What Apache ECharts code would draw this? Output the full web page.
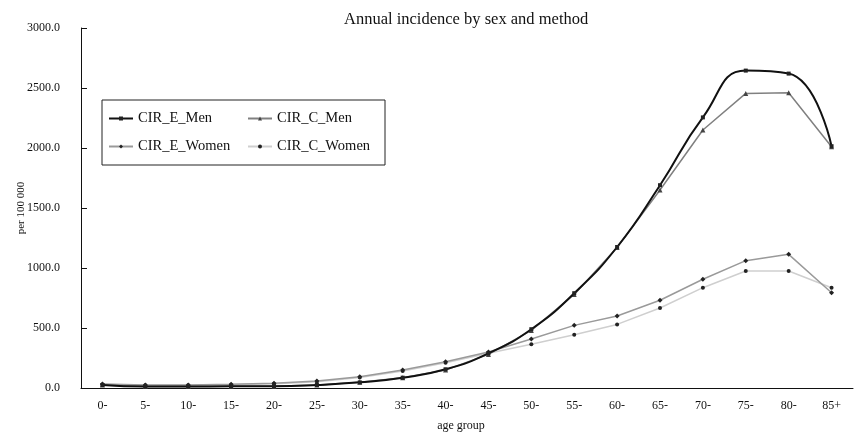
<!DOCTYPE html>
<html>
<head>
<meta charset="utf-8">
<script src="https://cdn.jsdelivr.net/npm/echarts@6/dist/echarts.min.js"></script>
<style>
  html, body { margin: 0; padding: 0; background: #fff; }
  #main { width: 858px; height: 433px; }
</style>
</head>
<body>
<div id="main"></div>
<script>
// age groups on the x axis
const ageGroups = ['0-', '5-', '10-', '15-', '20-', '25-', '30-', '35-', '40-', '45-', '50-', '55-', '60-', '65-', '70-', '75-', '80-', '85+'];

// values per 100 000
const cirEMen   = [25, 12, 12, 15, 15, 25, 47, 86, 156, 289, 490, 790, 1175, 1690, 2255, 2645, 2620, 2015];
const cirCMen   = [25, 12, 12, 15, 15, 25, 47, 86, 150, 280, 480, 780, 1170, 1650, 2150, 2455, 2460, 2010];
const cirEWomen = [33, 25, 25, 31, 39, 58, 94, 150, 219, 300, 408, 522, 600, 731, 906, 1061, 1114, 794];
const cirCWomen = [30, 22, 22, 28, 35, 52, 88, 142, 210, 290, 364, 444, 530, 667, 836, 975, 975, 835];

const font = 'Liberation Serif';

const myChart = echarts.init(document.getElementById('main'));

const option = {
    animation: false,
    backgroundColor: '#fff',
    title: {
        text: 'Annual incidence by sex and method',
        left: 339,
        top: 6,
        textStyle: { fontFamily: font, fontSize: 16.5, fontWeight: 'normal', color: '#111' }
    },
    legend: {
        left: 102,
        top: 100,
        width: 275,
        padding: [7, 4, 7, 6],
        itemGap: 5,
        itemWidth: 24,
        itemHeight: 5,
        borderColor: '#222',
        borderWidth: 1,
        borderRadius: 0,
        textStyle: { fontFamily: font, fontSize: 14.5, color: '#111', width: 104, lineHeight: 23 },
        data: ['CIR_E_Men', 'CIR_C_Men', 'CIR_E_Women', 'CIR_C_Women']
    },
    grid: { left: 81, right: 5, top: 28, bottom: 45, outerBoundsMode: 'none' },
    xAxis: {
        type: 'category',
        data: ageGroups,
        boundaryGap: true,
        name: 'age group',
        nameLocation: 'middle',
        nameGap: 32,
        nameMoveOverlap: false,
        nameTextStyle: { fontFamily: font, fontSize: 12, color: '#111', padding: [0, 12, 0, 0] },
        axisLine: { lineStyle: { color: '#111', width: 1 } },
        axisTick: { inside: true, length: 4, lineStyle: { color: '#111' } },
        axisLabel: { fontFamily: font, fontSize: 12, color: '#111', margin: 12, interval: 0 }
    },
    yAxis: {
        type: 'value',
        min: 0,
        max: 3000,
        interval: 500,
        name: 'per 100 000',
        nameLocation: 'middle',
        nameRotate: 90,
        nameGap: 54,
        nameMoveOverlap: false,
        nameTextStyle: { fontFamily: font, fontSize: 11, color: '#111' },
        axisLine: { show: true, lineStyle: { color: '#111', width: 1 } },
        axisTick: { show: true, inside: true, length: 6, lineStyle: { color: '#111' } },
        splitLine: { show: false },
        axisLabel: {
            fontFamily: font, fontSize: 12, color: '#111', margin: 21,
            formatter: (v) => v.toFixed(1)
        }
    },
    series: [
        {
            name: 'CIR_E_Men', type: 'line', data: cirEMen, smooth: 0.5, z: 5,
            symbol: 'rect', symbolSize: 4,
            lineStyle: { color: '#111', width: 2 },
            itemStyle: { color: '#222' }
        },
        {
            name: 'CIR_C_Men', type: 'line', data: cirCMen, z: 4,
            symbol: 'triangle', symbolSize: 5,
            lineStyle: { color: '#808080', width: 1.5 },
            itemStyle: { color: '#444' }
        },
        {
            name: 'CIR_E_Women', type: 'line', data: cirEWomen, z: 3,
            symbol: 'diamond', symbolSize: 5,
            lineStyle: { color: '#9a9a9a', width: 1.5 },
            itemStyle: { color: '#222' }
        },
        {
            name: 'CIR_C_Women', type: 'line', data: cirCWomen, z: 2,
            symbol: 'circle', symbolSize: 4,
            lineStyle: { color: '#cfcfcf', width: 1.5 },
            itemStyle: { color: '#222' }
        }
    ]
};

myChart.setOption(option);
</script>
</body>
</html>
